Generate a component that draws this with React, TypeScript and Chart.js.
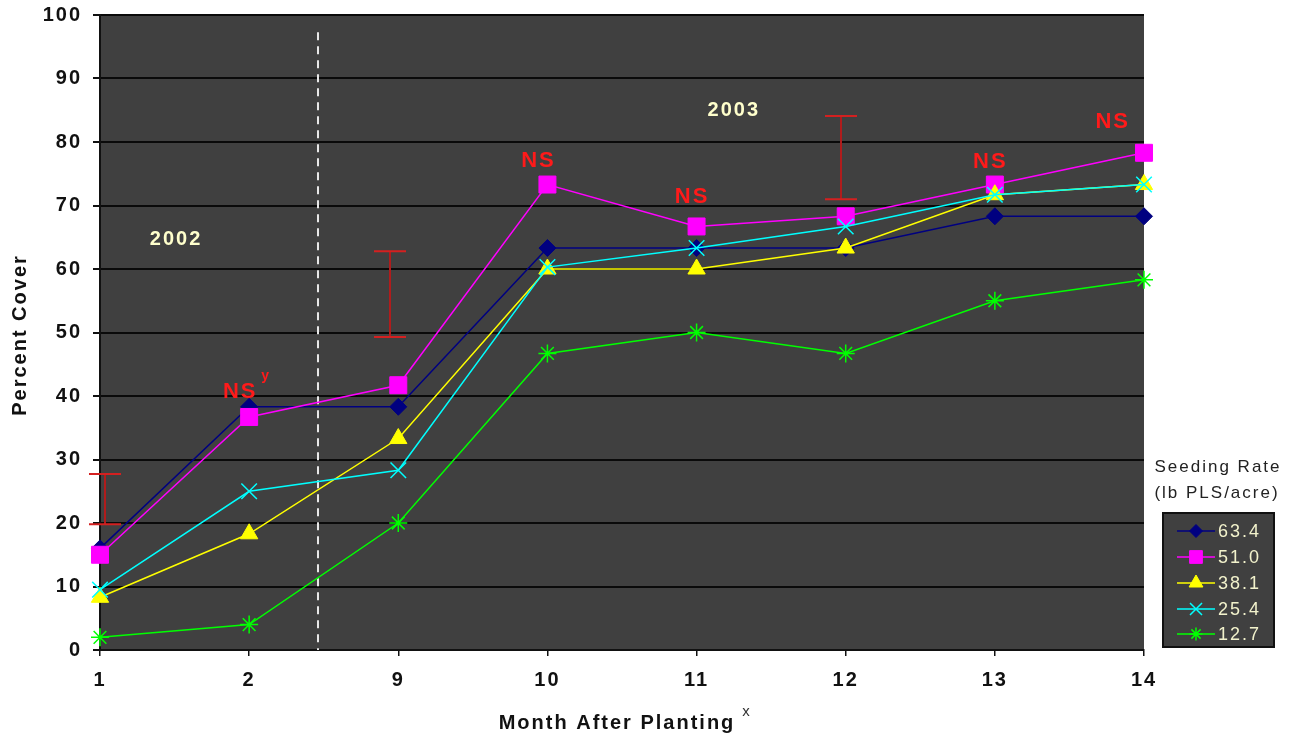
import React, { useEffect, useRef } from "react";
import { Chart, registerables } from "chart.js";
import { drawPoint } from "chart.js/helpers";

Chart.register(...registerables);

// ---- data ----
const categories = ["1", "2", "9", "10", "11", "12", "13", "14"];
const seedingRates = ["63.4", "51.0", "38.1", "25.4", "12.7"];
const cover634 = [16.0, 38.3, 38.3, 63.3, 63.3, 63.3, 68.3, 68.3];
const cover510 = [15.0, 36.7, 41.7, 73.3, 66.7, 68.3, 73.3, 78.3];
const cover381 = [8.3, 18.3, 33.3, 60.0, 60.0, 63.3, 71.7, 73.3];
const cover254 = [9.5, 25.0, 28.3, 60.3, 63.3, 66.7, 71.7, 73.3];
const cover127 = [2.0, 4.0, 20.0, 46.7, 50.0, 46.7, 55.0, 58.3];

// LSD error bars (x as category index, y low/high in percent)
const errX = [0.035, 1.944, 4.968];
const errLow = [19.8, 49.3, 71.0];
const errHigh = [27.7, 62.8, 84.1];

// "NS" significance labels (category index, percent)
const nsX = [0.94, 2.94, 3.97, 5.97, 6.79];
const nsY = [40.6, 77.0, 71.3, 76.9, 83.1];

// year labels
const yearText = ["2002", "2003"];
const yearX = [0.51, 4.25];
const yearY = [64.7, 85.0];

// boundary between years (category index)
const yearBoundaryX = 1.46;
const yearBoundaryTop = 97.3;

const seriesColors = ["#000080", "#ff00ff", "#ffff00", "#00ffff", "#00ff00"];
const seriesStyles = ["rectRot", "rect", "triangle", "crossRot", "star"];
const seriesRadius = [8.5, 12, 10, 11, 9];
const legendRadius = [6.5, 9, 8, 8.5, 6.5];

const FONT = "'Liberation Sans', Arial, sans-serif";

export default function App() {
  const ref = useRef<HTMLCanvasElement | null>(null);

  useEffect(() => {
    document.body.style.margin = "0";
    const canvas = ref.current;
    if (!canvas) return;

    const series = [cover634, cover510, cover381, cover254, cover127];

    const datasets = series.map((d, i) => ({
      label: seedingRates[i],
      data: d,
      borderColor: seriesColors[i],
      backgroundColor: seriesColors[i],
      pointBorderColor: seriesColors[i],
      pointBackgroundColor: seriesColors[i],
      pointStyle: seriesStyles[i],
      pointRadius: seriesRadius[i],
      pointBorderWidth: seriesStyles[i] === "crossRot" || seriesStyles[i] === "star" ? 1.5 : 1,
      borderWidth: 1.5,
      tension: 0,
      clip: false as any,
      order: 5 - i,
    }));

    const deco = {
      id: "deco",
      beforeDraw(chart: any) {
        const { ctx, chartArea } = chart;
        ctx.save();
        ctx.fillStyle = "#404040";
        ctx.fillRect(chartArea.left, chartArea.top, chartArea.right - chartArea.left, chartArea.bottom - chartArea.top);
        ctx.restore();
        ctx.letterSpacing = "2px";
      },
      beforeDatasetsDraw(chart: any) {
        const { ctx } = chart;
        const xs = chart.scales.x;
        const ys = chart.scales.y;
        ctx.save();
        ctx.letterSpacing = "0px";
        // dashed year boundary
        ctx.strokeStyle = "#e8e8e8";
        ctx.lineWidth = 2;
        ctx.setLineDash([8, 6]);
        const bx = Math.round(xs.getPixelForValue(yearBoundaryX));
        ctx.beginPath();
        ctx.moveTo(bx, ys.getPixelForValue(yearBoundaryTop));
        ctx.lineTo(bx, ys.getPixelForValue(0));
        ctx.stroke();
        ctx.setLineDash([]);
        // error bars
        for (let i = 0; i < errX.length; i++) {
          const x = Math.round(xs.getPixelForValue(errX[i]));
          const y1 = ys.getPixelForValue(errLow[i]);
          const y2 = ys.getPixelForValue(errHigh[i]);
          ctx.strokeStyle = "#b01c1c";
          ctx.lineWidth = 2;
          ctx.beginPath();
          ctx.moveTo(x, y1);
          ctx.lineTo(x, y2);
          ctx.stroke();
          ctx.strokeStyle = "#d42020";
          ctx.beginPath();
          ctx.moveTo(x - 16, y1);
          ctx.lineTo(x + 16, y1);
          ctx.moveTo(x - 16, y2);
          ctx.lineTo(x + 16, y2);
          ctx.stroke();
        }
        ctx.restore();
      },
      afterDatasetsDraw(chart: any) {
        const { ctx } = chart;
        const xs = chart.scales.x;
        const ys = chart.scales.y;
        ctx.save();
        ctx.letterSpacing = "2px";
        ctx.textAlign = "center";
        ctx.textBaseline = "middle";
        ctx.fillStyle = "#ff1a1a";
        ctx.font = `bold 22px ${FONT}`;
        for (let i = 0; i < nsX.length; i++) {
          ctx.fillText("NS", xs.getPixelForValue(nsX[i]), ys.getPixelForValue(nsY[i]));
        }
        // superscript on first NS
        ctx.font = `bold 14px ${FONT}`;
        ctx.letterSpacing = "0px";
        ctx.fillText("y", xs.getPixelForValue(nsX[0]) + 25, ys.getPixelForValue(nsY[0]) - 16);
        // years
        ctx.letterSpacing = "2px";
        ctx.fillStyle = "#ffffcc";
        ctx.font = `bold 20px ${FONT}`;
        for (let i = 0; i < yearText.length; i++) {
          ctx.fillText(yearText[i], xs.getPixelForValue(yearX[i]), ys.getPixelForValue(yearY[i]));
        }
        ctx.restore();
      },
      afterDraw(chart: any) {
        const { ctx } = chart;
        ctx.save();
        // axis titles
        ctx.fillStyle = "#111111";
        ctx.letterSpacing = "2px";
        ctx.font = `bold 20px ${FONT}`;
        ctx.textAlign = "center";
        ctx.textBaseline = "middle";
        ctx.fillText("Month After Planting", 617, 723);
        ctx.letterSpacing = "0px";
        ctx.font = `15px ${FONT}`;
        ctx.fillStyle = "#333333";
        ctx.fillText("x", 746, 712);
        ctx.save();
        ctx.translate(20, 335);
        ctx.rotate(-Math.PI / 2);
        ctx.letterSpacing = "2px";
        ctx.fillStyle = "#111111";
        ctx.font = `bold 20px ${FONT}`;
        ctx.fillText("Percent Cover", 0, 0);
        ctx.restore();

        // legend title
        ctx.letterSpacing = "2px";
        ctx.fillStyle = "#222222";
        ctx.font = `17px ${FONT}`;
        ctx.fillText("Seeding Rate", 1218, 467);
        ctx.fillText("(lb PLS/acre)", 1217, 493);

        // legend box
        ctx.fillStyle = "#404040";
        ctx.fillRect(1163, 513, 111, 134);
        ctx.strokeStyle = "#111111";
        ctx.lineWidth = 2;
        ctx.strokeRect(1163, 513, 111, 134);
        const rowY = [531, 557, 583, 609, 634];
        for (let i = 0; i < seedingRates.length; i++) {
          const y = rowY[i];
          ctx.strokeStyle = seriesColors[i];
          ctx.fillStyle = seriesColors[i];
          ctx.lineWidth = 1.5;
          ctx.beginPath();
          ctx.moveTo(1177, y);
          ctx.lineTo(1215, y);
          ctx.stroke();
          ctx.lineWidth = seriesStyles[i] === "crossRot" || seriesStyles[i] === "star" ? 1.5 : 1;
          drawPoint(ctx, { pointStyle: seriesStyles[i], radius: legendRadius[i], rotation: 0, borderWidth: ctx.lineWidth } as any, 1196, y);
          ctx.fillStyle = "#f2f2cc";
          ctx.letterSpacing = "2px";
          ctx.font = `18px ${FONT}`;
          ctx.textAlign = "left";
          ctx.fillText(seedingRates[i], 1218, y + 1);
        }
        ctx.restore();
      },
    };

    const chart = new Chart(canvas, {
      type: "line",
      data: { labels: categories, datasets: datasets as any },
      options: {
        animation: false,
        responsive: false,
        devicePixelRatio: 1,
        layout: { padding: { top: 15, right: 147, bottom: 0, left: 0 } },
        plugins: { legend: { display: false }, tooltip: { enabled: false } },
        scales: {
          x: {
            type: "category",
            offset: false,
            afterFit: (s: any) => {
              s.height = 88;
              s.paddingLeft = 0;
              s.paddingRight = 0;
            },
            grid: { display: true, drawOnChartArea: false, drawTicks: true, tickLength: 6, color: "#111111", lineWidth: 1.5 },
            border: { display: true, color: "#111111", width: 2 },
            ticks: {
              color: "#111111",
              padding: 12,
              autoSkip: false,
              maxRotation: 0,
              font: { family: FONT, size: 20, weight: "bold" },
            },
          },
          y: {
            min: 0,
            max: 100,
            afterFit: (s: any) => {
              s.width = 100;
              s.paddingTop = 0;
              s.paddingBottom = 0;
            },
            ticks: {
              stepSize: 10,
              color: "#111111",
              padding: 11,
              font: { family: FONT, size: 20, weight: "bold" },
            },
            grid: { color: "#0a0a0a", lineWidth: 2, drawTicks: true, tickLength: 7, tickColor: "#111111" },
            border: { display: true, color: "#111111", width: 2 },
          },
        },
      },
      plugins: [deco],
    });

    return () => chart.destroy();
  }, []);

  return (
    <div style={{ width: 1291, height: 738 }}>
      <canvas ref={ref} width={1291} height={738} />
    </div>
  );
}
